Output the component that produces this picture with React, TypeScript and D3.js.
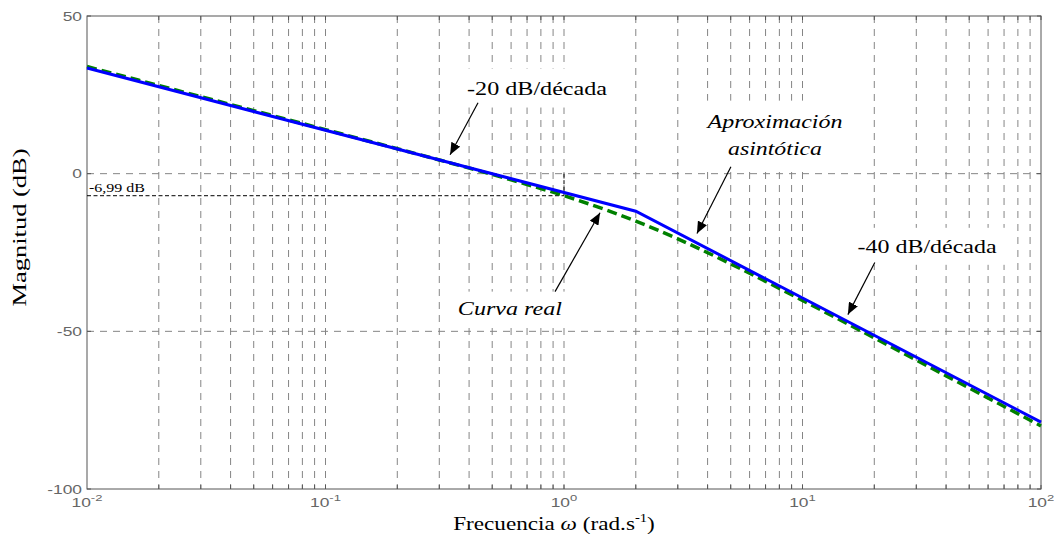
import React, { useEffect, useRef } from "react";
import * as d3 from "d3";

// real curve (dashed green)
const freqReal = [0.01, 0.02, 0.05, 0.1, 0.2, 0.3, 0.5, 0.7, 1, 1.5, 2, 3, 5, 7, 10, 20, 50, 100];
const magReal = [33.98, 27.96, 20.0, 13.97, 7.91, 4.34, -0.26, -3.42, -6.99, -11.48, -15.05, -20.68, -28.6, -34.14, -40.17, -52.08, -67.97, -80.0];

// asymptotic approximation (blue)
const freqAsym = [0.01, 2, 100];
const magAsym = [33.5, -11.9, -78.8];

const yTicks = [50, 0, -50, -100];
const yGrid = [0, -50];
const decades = [-2, -1, 0, 1, 2];
const minorMult = [2, 3, 4, 5, 6, 7, 8, 9];

const W = 1054;
const H = 550;
const margin = { top: 16, right: 13, bottom: 61, left: 87 };

const serif = "Liberation Serif, Times New Roman, Times, serif";
const sans = "Liberation Sans, Arial, Helvetica, sans-serif";

function App() {
  const ref = useRef<SVGSVGElement>(null);

  useEffect(() => {
    const svg = d3.select(ref.current);
    svg.selectAll("*").remove();

    const x = d3.scaleLog().domain([0.01, 100]).range([margin.left, W - margin.right]);
    const y = d3.scaleLinear().domain([-100, 50]).range([H - margin.bottom, margin.top]);
    const x0 = x.range()[0], x1 = x.range()[1];
    const y0 = y.range()[0], y1 = y.range()[1];

    svg.append("defs").append("marker")
      .attr("id", "arr")
      .attr("markerUnits", "userSpaceOnUse")
      .attr("markerWidth", 14).attr("markerHeight", 10)
      .attr("refX", 12).attr("refY", 5)
      .attr("orient", "auto")
      .append("path").attr("d", "M0,0 L12,5 L0,10 Z").attr("fill", "#000");

    // grid
    const gridX: number[] = [];
    decades.slice(0, -1).forEach((d) => {
      minorMult.forEach((m) => gridX.push(m * Math.pow(10, d)));
      gridX.push(Math.pow(10, d + 1));
    });
    const grid = svg.append("g").attr("stroke", "#858585").attr("stroke-width", 1).attr("stroke-dasharray", "7,6");
    grid.selectAll(".gx").data(gridX.slice(0, -1)).enter().append("line")
      .attr("x1", (d) => x(d)).attr("x2", (d) => x(d)).attr("y1", y1).attr("y2", y0);
    grid.selectAll(".gy").data(yGrid).enter().append("line")
      .attr("x1", x0).attr("x2", x1).attr("y1", (d) => y(d)).attr("y2", (d) => y(d));

    // box + ticks
    const ax = svg.append("g").attr("stroke", "#555").attr("stroke-width", 1).attr("fill", "none");
    ax.append("rect").attr("x", x0).attr("y", y1).attr("width", x1 - x0).attr("height", y0 - y1);
    gridX.forEach((d) => {
      ax.append("line").attr("x1", x(d)).attr("x2", x(d)).attr("y1", y0).attr("y2", y0 - 4);
      ax.append("line").attr("x1", x(d)).attr("x2", x(d)).attr("y1", y1).attr("y2", y1 + 4);
    });
    yTicks.forEach((d) => {
      ax.append("line").attr("x1", x0).attr("x2", x0 + 4).attr("y1", y(d)).attr("y2", y(d));
      ax.append("line").attr("x1", x1).attr("x2", x1 - 4).attr("y1", y(d)).attr("y2", y(d));
    });

    // tick labels
    const tl = svg.append("g").attr("fill", "#666").attr("font-family", sans);
    yTicks.forEach((d) => {
      tl.append("g").attr("transform", `translate(${x0 - 5},${y(d) + 4.5}) scale(1.45,1)`)
        .append("text").attr("text-anchor", "end").attr("font-size", 12).text(d);
    });
    decades.forEach((d) => {
      const t = tl.append("g").attr("transform", `translate(${x(Math.pow(10, d))},${y0 + 18}) scale(1.45,1)`)
        .append("text").attr("text-anchor", "middle").attr("font-size", 12);
      t.append("tspan").text("10");
      t.append("tspan").attr("dy", -6).attr("font-size", 9).text(String(d));
    });

    // -6,99 dB reference
    const ref699 = svg.append("g").attr("stroke", "#000").attr("stroke-width", 1).attr("stroke-dasharray", "4,2.5");
    ref699.append("line").attr("x1", x0).attr("x2", x(1)).attr("y1", y(-6.99)).attr("y2", y(-6.99));
    ref699.append("line").attr("x1", x(1)).attr("x2", x(1)).attr("y1", y(0)).attr("y2", y(-6.99));
    svg.append("text").attr("x", x0 + 2).attr("y", y(-6.99) - 4)
      .attr("font-family", serif).attr("font-size", 12)
      .attr("textLength", 56).attr("lengthAdjust", "spacingAndGlyphs").text("-6,99 dB");

    // annotation labels with white boxes
    const label = (lines: { s: string; f: number; db: number; len: number }[], italic: boolean, pad: number) => {
      const g = svg.append("g");
      const tg = g.append("g");
      lines.forEach((l) => {
        tg.append("text").attr("x", x(l.f)).attr("y", y(l.db)).attr("text-anchor", "middle")
          .attr("font-family", serif).attr("font-size", 19).attr("font-style", italic ? "italic" : "normal")
          .attr("textLength", l.len).attr("lengthAdjust", "spacingAndGlyphs").text(l.s);
      });
      const b = (tg.node() as SVGGElement).getBBox();
      g.insert("rect", ":first-child").attr("x", b.x - pad).attr("y", b.y - pad)
        .attr("width", b.width + 2 * pad).attr("height", b.height + 2 * pad).attr("fill", "#fff");
    };
    label([{ s: "-20 dB/década", f: 0.771, db: 25.1, len: 140 }], false, 9);
    label([{ s: "-40 dB/década", f: 33.3, db: -25.1, len: 139 }], false, 8);
    label([
      { s: "Aproximación", f: 7.67, db: 14.6, len: 135 },
      { s: "asintótica", f: 7.67, db: 6.0, len: 94 },
    ], true, 10);
    label([{ s: "Curva real", f: 0.593, db: -44.7, len: 104 }], true, 6);

    // curves
    const line = d3.line<[number, number]>().x((d) => x(d[0])).y((d) => y(d[1]));
    svg.append("path")
      .datum(freqReal.map((f, i) => [f, magReal[i]] as [number, number]))
      .attr("d", line.curve(d3.curveMonotoneX))
      .attr("fill", "none").attr("stroke", "#008000").attr("stroke-width", 3.5).attr("stroke-dasharray", "10,5");
    svg.append("path")
      .datum(freqAsym.map((f, i) => [f, magAsym[i]] as [number, number]))
      .attr("d", d3.line<[number, number]>().x((d) => x(d[0])).y((d) => y(d[1])))
      .attr("fill", "none").attr("stroke", "#0000ff").attr("stroke-width", 3);

    // arrows
    const arrows: [number, number, number, number][] = [
      [0.436, 22.5, 0.333, 6.0],
      [0.917, -37.4, 1.416, -12.4],
      [5.01, 2.2, 3.61, -19.0],
      [20.1, -28.2, 15.5, -44.7],
    ];
    svg.selectAll(".arrow").data(arrows).enter().append("line")
      .attr("x1", (d) => x(d[0])).attr("y1", (d) => y(d[1]))
      .attr("x2", (d) => x(d[2])).attr("y2", (d) => y(d[3]))
      .attr("stroke", "#000").attr("stroke-width", 1.2).attr("marker-end", "url(#arr)");

    // axis titles
    svg.append("text")
      .attr("transform", `translate(26,${(y0 + y1) / 2 - 25}) rotate(-90)`)
      .attr("text-anchor", "middle").attr("font-family", serif).attr("font-size", 19)
      .attr("textLength", 158).attr("lengthAdjust", "spacingAndGlyphs").text("Magnitud (dB)");
    const xt = svg.append("g").attr("transform", `translate(${(x0 + x1) / 2 - 10},530) scale(1.22,1)`)
      .append("text").attr("text-anchor", "middle").attr("font-family", serif).attr("font-size", 19);
    xt.append("tspan").text("Frecuencia ");
    xt.append("tspan").attr("font-style", "italic").text("ω");
    xt.append("tspan").text(" (rad.s");
    xt.append("tspan").attr("dy", -8).attr("font-size", 12).text("-1");
    xt.append("tspan").attr("dy", 8).text(")");
  }, []);

  return (
    <div style={{ position: "absolute", left: 0, top: 0 }}>
      <svg ref={ref} width={W} height={H} style={{ display: "block", background: "#fff" }} />
    </div>
  );
}

export default App;
